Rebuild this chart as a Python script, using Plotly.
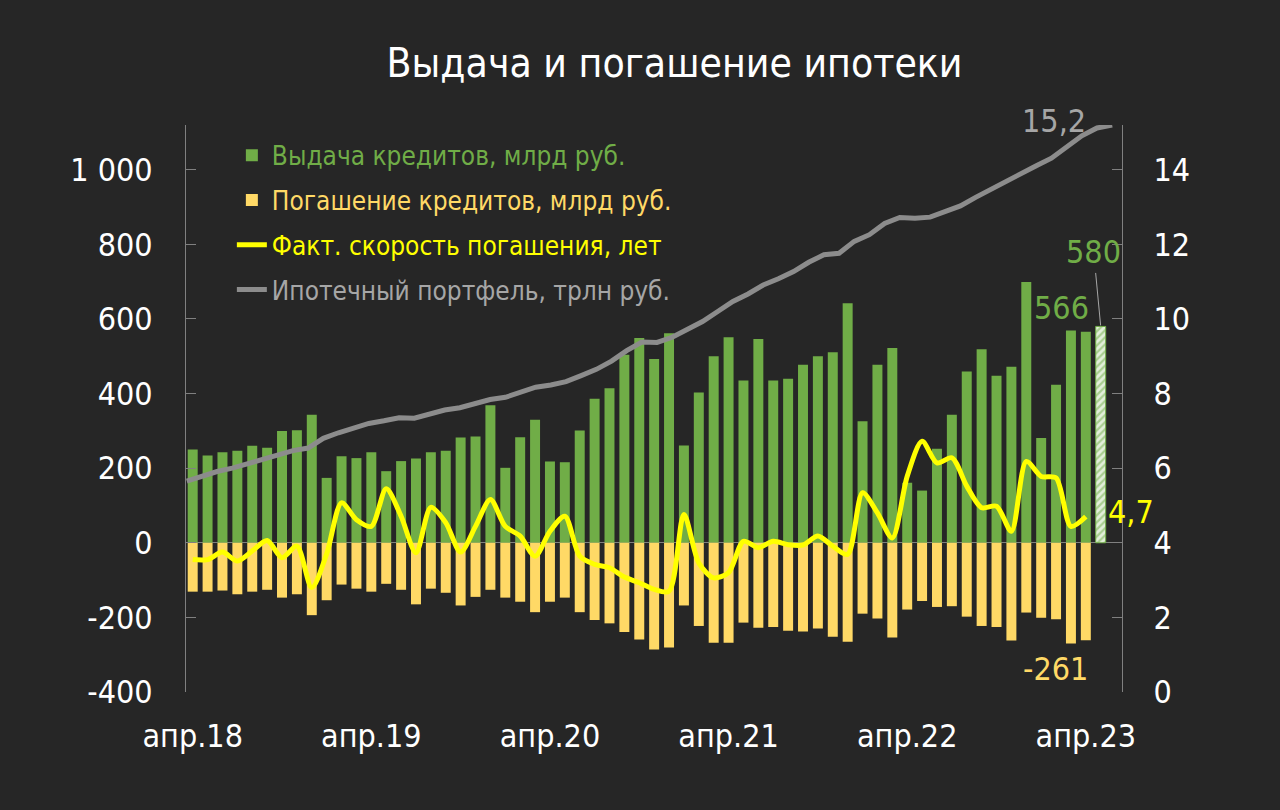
import plotly.graph_objects as go

# monthly categories apr.18 .. may.23
month_names = ["янв", "фев", "мар", "апр", "май", "июн", "июл", "авг", "сен", "окт", "ноя", "дек"]
months = []
for k in range(62):
    m = (3 + k) % 12
    yy = 18 + (3 + k) // 12
    months.append(f"{month_names[m]}.{yy}")
tick_labels = [lbl for lbl in months if lbl.startswith("апр")]

# mortgage issuance, bn rub (apr.18 .. apr.23)
issued = [250, 234, 243, 247, 260, 255, 300, 302, 343, 174,
          232, 227, 243, 192, 219, 226, 243, 247, 282, 285,
          369, 201, 283, 330, 218, 216, 301, 386, 414, 504,
          549, 493, 562, 261, 403, 500, 551, 435, 546, 435,
          440, 477, 500, 511, 642, 326, 477, 522, 161, 140,
          252, 343, 459, 519, 448, 472, 699, 281, 424, 569, 566]
# estimate for may.23
issued_estimate = 580

# repayments, bn rub
repaid = [-131, -131, -128, -138, -131, -126, -147, -138, -194, -154,
          -112, -123, -131, -110, -126, -165, -123, -134, -168, -145,
          -126, -147, -158, -186, -158, -147, -186, -207, -216, -239,
          -259, -286, -281, -168, -223, -268, -268, -214, -228, -226,
          -236, -238, -230, -252, -265, -190, -203, -254, -179, -156,
          -172, -170, -198, -223, -226, -262, -187, -201, -205, -270, -261]

# actual repayment speed, years
speed = [3.55, 3.55, 3.75, 3.51, 3.78, 4.06, 3.60, 3.91, 2.80, 3.70,
         5.07, 4.62, 4.44, 5.45, 4.71, 3.73, 4.95, 4.54, 3.75, 4.44,
         5.16, 4.44, 4.18, 3.64, 4.31, 4.71, 3.64, 3.42, 3.33, 3.08,
         2.93, 2.75, 2.70, 4.76, 3.46, 3.06, 3.20, 4.04, 3.87, 4.04,
         3.95, 3.94, 4.18, 3.91, 3.69, 5.34, 4.80, 4.13, 5.78, 6.72,
         6.14, 6.28, 5.52, 4.94, 4.98, 4.31, 6.18, 5.78, 5.74, 4.44, 4.7]

# mortgage portfolio, trn rub
portfolio = [5.65, 5.78, 5.91, 6.00, 6.12, 6.24, 6.36, 6.47, 6.54, 6.80,
             6.95, 7.09, 7.20, 7.27, 7.35, 7.34, 7.45, 7.56, 7.62, 7.72,
             7.84, 7.90, 8.05, 8.17, 8.23, 8.32, 8.48, 8.65, 8.87, 9.15,
             9.38, 9.37, 9.51, 9.71, 9.93, 10.20, 10.47, 10.67, 10.91, 11.08,
             11.27, 11.52, 11.72, 11.76, 12.08, 12.26, 12.56, 12.72, 12.70, 12.73,
             12.88, 13.03, 13.26, 13.48, 13.67, 13.91, 14.11, 14.31, 14.62, 14.91,
             15.12, 15.2]

GREEN = "#70AD47"
ORANGE = "#FFD966"
YELLOW = "#FFFF00"
GREY = "#8C8C8C"
GREY_TXT = "#A6A6A6"
BG = "#262626"
AXIS = "#808080"
FONT = "Tahoma, 'DejaVu Sans Condensed', 'Noto Sans', sans-serif"

left_ticks = [-400, -200, 0, 200, 400, 600, 800, 1000]
right_ticks = [0, 2, 4, 6, 8, 10, 12, 14]


def fmt(v):
    return f"{v:,}".replace(",", " ")


def legend_name(txt, color):
    return f"<span style='color:{color}'>{txt}</span>"


fig = go.Figure()

fig.add_trace(go.Bar(
    x=months[:len(issued)], y=issued, marker_color=GREEN, marker_line_width=0,
    name=legend_name("Выдача кредитов, млрд руб.", GREEN), legendgroup="a",
))
fig.add_trace(go.Bar(
    x=[months[len(issued)]], y=[issued_estimate], showlegend=False,
    marker=dict(color="#E2EFDA", line=dict(color=GREEN, width=1),
                pattern=dict(shape="/", fgcolor=GREEN, bgcolor="#E2EFDA", size=5, solidity=0.45)),
))
fig.add_trace(go.Bar(
    x=months[:len(repaid)], y=repaid, marker_color=ORANGE, marker_line_width=0,
    name=legend_name("Погашение кредитов, млрд руб.", ORANGE), legendgroup="b",
))
fig.add_trace(go.Scatter(
    x=months[:len(speed)], y=speed, yaxis="y2", mode="lines",
    line=dict(color=YELLOW, width=5, shape="spline", smoothing=0.8),
    name=legend_name("Факт. скорость погашения, лет", YELLOW), legendgroup="c",
))
fig.add_trace(go.Scatter(
    x=months[:len(portfolio)], y=portfolio, xaxis="x2", yaxis="y2", mode="lines",
    line=dict(color=GREY, width=5),
    name=legend_name("Ипотечный портфель, трлн руб.", GREY_TXT), legendgroup="d",
))

num_font = dict(family=FONT, size=32)
annotations = [
    dict(x=months[len(portfolio) - 1], y=portfolio[-1], xref="x2", yref="y2",
         text=f"{portfolio[-1]:.1f}".replace(".", ","), showarrow=False,
         xanchor="right", yanchor="middle", xshift=-24, yshift=4,
         font=dict(num_font, color=GREY_TXT)),
    dict(x=months[len(issued)], y=issued_estimate, xref="x", yref="y",
         text=str(issued_estimate), showarrow=True, arrowhead=0, arrowwidth=1,
         arrowcolor=GREY_TXT, ax=-7, ay=-74, standoff=1,
         font=dict(num_font, color=GREEN)),
    dict(x=months[len(issued) - 1], y=issued[-1], xref="x", yref="y",
         text=str(issued[-1]), showarrow=False, xshift=-24, yshift=24,
         font=dict(num_font, color=GREEN)),
    dict(x=months[len(repaid) - 1], y=repaid[-1], xref="x", yref="y",
         text=str(repaid[-1]), showarrow=False, xshift=-30, yshift=-29,
         font=dict(num_font, color=ORANGE)),
    dict(x=months[len(speed) - 1], y=speed[-1], xref="x", yref="y2",
         text=f"{speed[-1]:.1f}".replace(".", ","), showarrow=False,
         xshift=45, yshift=5, font=dict(num_font, color=YELLOW)),
]

fig.update_layout(
    width=1280, height=810,
    paper_bgcolor=BG, plot_bgcolor=BG,
    margin=dict(l=186, r=158, t=125, b=118),
    barmode="relative", bargap=0.33,
    font=dict(family=FONT, color="white", size=32),
    title=dict(text="Выдача и погашение ипотеки", x=0.527, xanchor="center",
               y=0.922, yanchor="middle", font=dict(family=FONT, size=40.5, color="white")),
    xaxis=dict(type="category", categoryorder="array", categoryarray=months,
               range=[-0.45, 62.43], tickvals=tick_labels, ticktext=tick_labels,
               showgrid=False, showline=False, ticks="", zeroline=False,
               ticklabelstandoff=22, tickfont=dict(size=32, color="white")),
    xaxis2=dict(type="category", categoryorder="array", categoryarray=months,
                overlaying="x", range=[-0.05, 61.65], visible=False),
    yaxis=dict(range=[-400, 1120], tickvals=left_ticks, ticktext=[fmt(v) for v in left_ticks],
               showgrid=False, showline=True, linecolor=AXIS, linewidth=1,
               ticks="inside", ticklen=10, tickcolor=AXIS,
               zeroline=True, zerolinecolor=AXIS, zerolinewidth=1,
               ticklabelstandoff=26, tickfont=dict(size=32, color="white")),
    yaxis2=dict(range=[0, 15.2], tickvals=right_ticks, overlaying="y", side="right",
                showgrid=False, showline=True, linecolor=AXIS, linewidth=1,
                ticks="inside", ticklen=10, tickcolor=AXIS, zeroline=False,
                ticklabelstandoff=24, tickfont=dict(size=32, color="white")),
    legend=dict(x=0.049, y=0.988, xanchor="left", yanchor="top",
                bgcolor="rgba(0,0,0,0)", font=dict(family=FONT, size=26),
                tracegroupgap=8, itemwidth=30),
    annotations=annotations,
    showlegend=True,
)

fig.write_html("out.html", config={"displayModeBar": False},
               post_script="document.body.style.margin='0';document.body.style.background='#262626';")
